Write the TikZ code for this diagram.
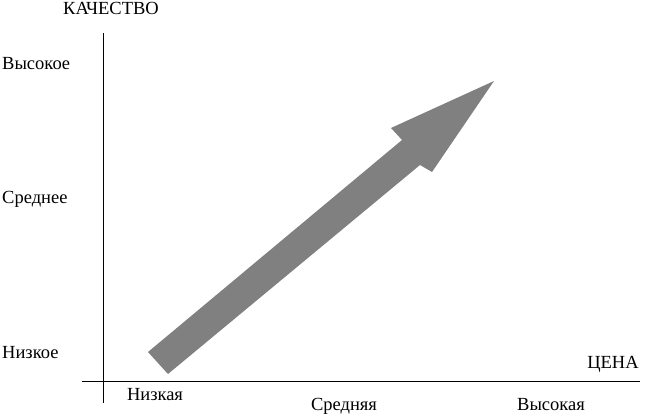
\documentclass[tikz,border=0pt]{standalone}
\usepackage{fontspec}
\setmainfont{Liberation Serif}
\definecolor{arrowgray}{HTML}{808080}
\tikzset{
  lbl/.style={inner sep=0pt, font=\rmfamily\fontsize{18.5}{20}\selectfont},
  axis/.style={draw=black, line width=1pt},
  bigarrow/.style={fill=arrowgray, draw=none}
}
\begin{document}
\begin{tikzpicture}[x=1pt,y=-1pt]
\useasboundingbox (0,0) rectangle (646,415);
% axes
\coordinate (ytop) at (103,33);
\coordinate (ybot) at (103,403);
\coordinate (xl) at (82,381);
\coordinate (xr) at (640,381);
\draw[axis] (ytop) -- (ybot);
\draw[axis] (xl) -- (xr);
% arrow
\fill[bigarrow] (148,352) -- (402,140) -- (391,128) -- (494,81) -- (432,172) -- (420,165) -- (168,374) -- cycle;
% labels
\node[lbl, anchor=base] (kach) at (111,15) {КАЧЕСТВО};
\node[lbl, anchor=base west] (vys) at (2,69) {Высокое};
\node[lbl, anchor=base west] (sred) at (2,203) {Среднее};
\node[lbl, anchor=base west] (niz) at (2,358) {Низкое};
\node[lbl, anchor=base] (cena) at (613,368) {ЦЕНА};
\node[lbl, anchor=base] (nizk) at (155,400) {Низкая};
\node[lbl, anchor=base] (sredn) at (344,410) {Средняя};
\node[lbl, anchor=base] (vysk) at (551,410) {Высокая};
\end{tikzpicture}
\end{document}
